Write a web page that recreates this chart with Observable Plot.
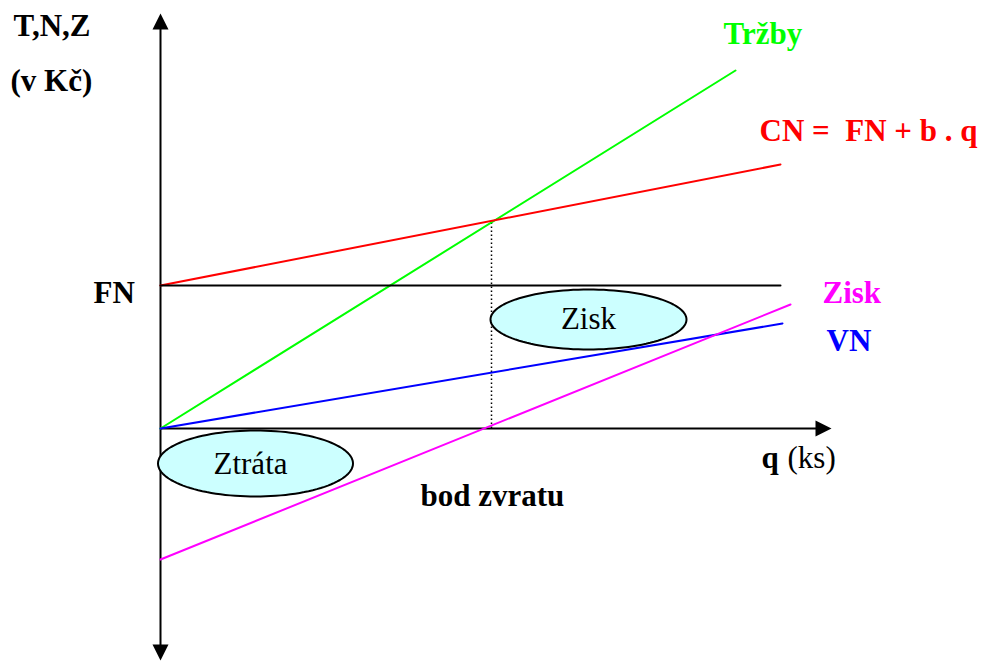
<!DOCTYPE html>
<html>
<head>
<meta charset="utf-8">
<script src="https://cdn.jsdelivr.net/npm/d3@7"></script>
<script src="https://cdn.jsdelivr.net/npm/@observablehq/plot@0.6"></script>
<style>
  html, body { margin: 0; padding: 0; background: #fff; }
  #chart svg { display: block; }
  #chart svg text { font-family: "Liberation Serif", "Times New Roman", serif !important; }
</style>
</head>
<body>
<div id="chart"></div>
<script>
// ---- data (schematic break-even chart, in data units: q and Kč) ----
const seriesNames = ["Tržby", "CN", "FN", "VN", "Zisk"];
const seriesColors = ["#00ff00", "#ff0000", "#000000", "#0000ff", "#ff00ff"];
const qStart = [0, 0, 0, 0, 0];
const qEnd = [57.5, 62, 62, 62.2, 63];
const valStart = [0, 14.3, 14.3, 0, -13.1];
const valEnd = [35.8, 26.4, 14.3, 10.5, 12.4];

const breakEvenQ = 33.1;
const breakEvenVal = 20.7;

const axisYMin = -23.2, axisYMax = 41.5;   // vertical axis extent (arrow tips)
const axisXMax = 67.1;                     // horizontal axis extent (arrow tip)

const ellipseNames = ["Zisk", "Ztráta"];
const ellipseCq = [42.8, 9.5];
const ellipseCv = [10.9, -3.5];
const ellipseRq = [9.8, 9.75];
const ellipseRv = [3.0, 3.3];
const ellipseTextQ = [42.8, 9.0];
const ellipseTextV = [10.0, -4.5];

const labelTexts = ["T,N,Z", "(v Kč)", "Tržby", "CN =  FN + b . q", "FN", "Zisk", "VN", "q", "bod zvratu"];
const labelQ = [-14.7, -15.0, 56.3, 59.9, -6.7, 66.2, 66.6, 60.1, 26.0];
const labelV = [39.3, 33.8, 38.5, 28.8, 12.6, 12.6, 7.8, -3.9, -7.7];
const labelColors = ["#000", "#000", "#00ff00", "#ff0000", "#000", "#ff00ff", "#0000ff", "#000", "#000"];
const unitText = "(ks)";
const unitQ = 62.7, unitV = -3.9;

// ---- build tables ----
const lineRows = seriesNames.flatMap((s, i) => [
  {s, q: qStart[i], v: valStart[i], c: seriesColors[i]},
  {s, q: qEnd[i], v: valEnd[i], c: seriesColors[i]}
]);
const ellipseRows = ellipseNames.flatMap((n, i) =>
  d3.range(0, 121).map(k => {
    const t = (k / 120) * 2 * Math.PI;
    return {n, q: ellipseCq[i] + ellipseRq[i] * Math.cos(t), v: ellipseCv[i] + ellipseRv[i] * Math.sin(t)};
  })
);
const labels = labelTexts.map((t, i) => ({t, q: labelQ[i], v: labelV[i], c: labelColors[i]}));
const ellipseLabels = ellipseNames.map((t, i) => ({t, q: ellipseTextQ[i], v: ellipseTextV[i]}));

// custom arrowhead symbols: tip at the anchor point
function tri(dir) {
  return {
    draw(ctx) {
      const h = 16, w = 8;
      if (dir === "up") { ctx.moveTo(0, 0); ctx.lineTo(w, h); ctx.lineTo(-w, h); }
      else if (dir === "down") { ctx.moveTo(0, 0); ctx.lineTo(w, -h); ctx.lineTo(-w, -h); }
      else { ctx.moveTo(0, 0); ctx.lineTo(-h, w); ctx.lineTo(-h, -w); }
      ctx.closePath();
    }
  };
}

const font = "'Liberation Serif', 'Times New Roman', serif";
const W = 986, H = 661;

const chart = Plot.plot({
  width: W, height: H,
  margin: 0,
  x: {domain: [-16, 82.6], axis: null},
  y: {domain: [-23.3, 42.8], axis: null},
  style: {fontFamily: font, background: "#fff"},
  marks: [
    // axes
    Plot.ruleX([0], {y1: axisYMin + 1.2, y2: axisYMax - 1.2, stroke: "#000", strokeWidth: 2}),
    Plot.ruleY([0], {x1: 0, x2: axisXMax - 1.2, stroke: "#000", strokeWidth: 2}),
    Plot.dot([{q: 0, v: axisYMax}], {x: "q", y: "v", symbol: tri("up"), fill: "#000", stroke: null, r: 5}),
    Plot.dot([{q: 0, v: axisYMin}], {x: "q", y: "v", symbol: tri("down"), fill: "#000", stroke: null, r: 5}),
    Plot.dot([{q: axisXMax, v: 0}], {x: "q", y: "v", symbol: tri("right"), fill: "#000", stroke: null, r: 5}),
    // break-even dotted line
    Plot.ruleX([breakEvenQ], {y1: 0, y2: breakEvenVal, stroke: "#000", strokeWidth: 1.5, strokeDasharray: "1.5,2.5"}),
    // ellipses
    Plot.line(ellipseRows, {x: "q", y: "v", z: "n", fill: "#ccffff", stroke: "#000", strokeWidth: 2, curve: "linear-closed"}),
    Plot.text(ellipseLabels, {x: "q", y: "v", text: "t", fontFamily: font, fontSize: 31, fill: "#000", textAnchor: "middle", lineAnchor: "bottom"}),
    // series lines
    Plot.line(lineRows, {x: "q", y: "v", z: "s", stroke: "c", strokeWidth: 2}),
    // labels
    Plot.text(labels, {x: "q", y: "v", text: "t", fill: "c", fontFamily: font, fontSize: 31, fontWeight: "bold", textAnchor: "start", lineAnchor: "bottom"}),
    Plot.text([unitText], {x: unitQ, y: unitV, text: d => d, fill: "#000", fontFamily: font, fontSize: 31, textAnchor: "start", lineAnchor: "bottom"})
  ]
});
document.getElementById("chart").appendChild(chart);
</script>
</body>
</html>
